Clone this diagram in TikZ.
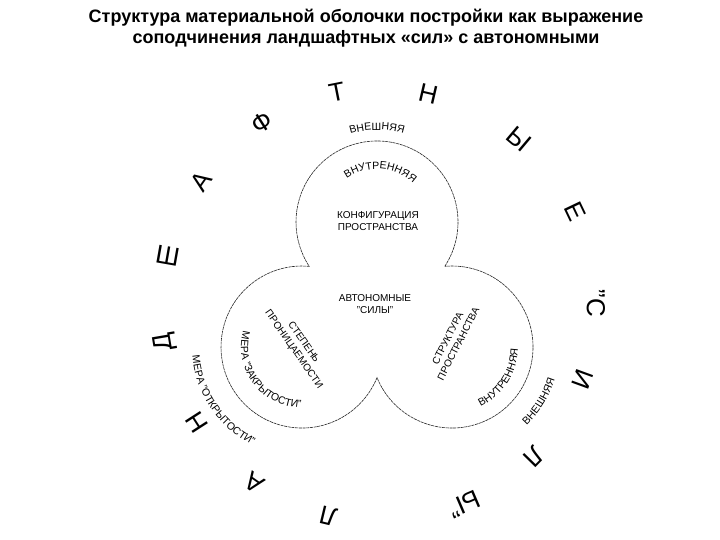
\documentclass[tikz,border=0pt]{standalone}
\usepackage{fontspec}
\setmainfont{Liberation Sans}
\usetikzlibrary{decorations.text,calc}

\begin{document}
\begin{tikzpicture}[x=1pt,y=1pt,
outline/.style={
% The line:
line width=0.6pt,
draw=black!85,
dash pattern=on 3pt off 0.7pt
},
bigletter/.style={
% Font
font=\fontsize{26}{26}\selectfont,
inner sep=0pt
},
heading/.style={
% Font
font=\bfseries\fontsize{18}{21}\selectfont,
align=center
},
inscription/.style={
% Font
font=\fontsize{10}{12}\selectfont,
align=center, inner sep=0pt
},
arclabel/.style={
% text set along the path
decorate,
decoration={text along path, text align=center,
text={|\fontsize{10.5}{11}\selectfont|#1}}
}]

\useasboundingbox (0,0) rectangle (720,540);

\coordinate (ctop) at (377,318);
\coordinate (cleft) at (302,193);
\coordinate (cright) at (452,193);
\coordinate (cout) at (379,235);

% outline of the three circles
\draw[outline] ([shift={(-33.2:81)}]ctop) arc[start angle=-33.2, end angle=213.2, radius=81]
 arc[start angle=84.9, end angle=337.8, radius=81]
 arc[start angle=202.2, end angle=455.1, radius=81] -- cycle;

\node (title) [heading] at (366,512) {Структура материальной оболочки постройки как выражение\\соподчинения ландшафтных «сил» с автономными};

\node (config) [inscription] at (378,319) {КОНФИГУРАЦИЯ\\ПРОСТРАНСТВА};
\node (auto) [inscription] at (375,236) {АВТОНОМНЫЕ\\"СИЛЫ"};
\node (perm) [inscription, rotate=-55] at (298.5,194) {СТЕПЕНЬ\\ПРОНИЦАЕМОСТИ};
\node (struct) [inscription, rotate=63] at (453,199) {СТРУКТУРА\\ПРОСТРАНСТВА};

\path[arclabel={ВНЕШНЯЯ}] ([shift={(150:92)}]ctop) arc[start angle=150, end angle=30, radius=92];
\path[arclabel={ВНУТРЕННЯЯ}] ([shift={(166:53)}]ctop) arc[start angle=166, end angle=6, radius=53];
\path[arclabel={МЕРА "ЗАКРЫТОСТИ"}] ([shift={(137:61)}]cleft) arc[start angle=137, end angle=297, radius=61];
\path[arclabel={МЕРА "ОТКРЫТОСТИ"}] ([shift={(164:110)}]cleft) arc[start angle=164, end angle=264, radius=110];
\path[arclabel={ВНУТРЕННЯЯ}] ([shift={(-93:66)}]cright) arc[start angle=-93, end angle=27, radius=66];
\path[arclabel={ВНЕШНЯЯ}] ([shift={(-72:108)}]cright) arc[start angle=-72, end angle=8, radius=108];

% the landscape forces round the whole figure
\foreach \ch/\ang/\rot [count=\i] in {Л/256.5/166.5, А/235/145, Н/212.8/122.8, Д/189.7/99.7,
 Ш/167/-10, А/145.1/55.1, Ф/122.7/32.7, Т/101.2/11.2, Н/76.9/-13.1, Ы/49.9/-40.1,
 Е/25.5/-64.5, "С/0.5/-89.5, И/-20/-110, Л/-44.4/-134.4, Ы"/-66.8/-156.8}
 \node (letter\i) [bigletter, rotate=\rot] at ([shift={(\ang:217)}]cout) {\ch};
\end{tikzpicture}
\end{document}
